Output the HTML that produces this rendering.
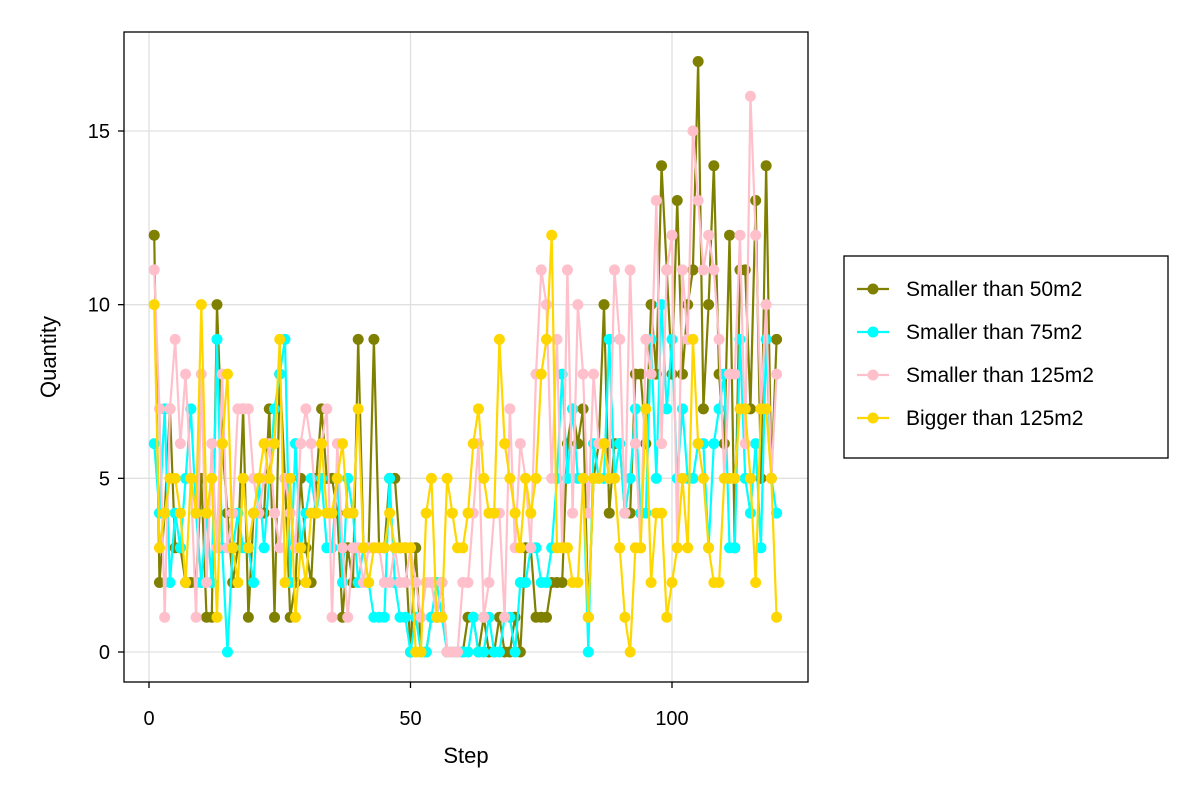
<!DOCTYPE html>
<html><head><meta charset="utf-8"><style>
body{margin:0;background:#fff;}
svg{display:block;font-family:"Liberation Sans",Arial,sans-serif;}
</style></head><body>
<svg id="chart" width="1200" height="800">
<rect x="0" y="0" width="1200" height="800" fill="#fff"/>
<g id="grid"></g><g id="series"></g>
<rect x="124" y="32" width="684" height="650" fill="none" stroke="#000" stroke-width="1.3"/>
<g id="axes"></g>
<text x="466" y="763" font-size="22" text-anchor="middle">Step</text>
<text transform="translate(56,357) rotate(-90)" font-size="22" text-anchor="middle">Quantity</text>
<g id="legend"><rect x="844" y="256" width="324" height="202" fill="#fff" stroke="#000" stroke-width="1.3"/></g>
</svg>
<script>
const seriesNames=["Smaller than 50m2","Smaller than 75m2","Smaller than 125m2","Bigger than 125m2"];
const colors=["#808000","#00ffff","#ffc0cb","#ffd700"];
const s50=[12,2,4,7,3,3,2,2,2,5, 1,1,10,6,4,2,3,7,1,4, 4,4,7,1,8,5,1,2,5,3, 2,5,7,5,5,4,1,3,2,9, 3,3,9,3,3,5,5,3,3,0, 3,0,0,1,1,2,0,0,0,0, 1,1,0,1,0,0,1,0,0,1, 0,3,3,1,1,1,2,2,2,6, 7,6,7,1,5,6,10,4,6,6, 4,4,8,8,6,10,8,14,11,8, 13,8,10,11,17,7,10,14,8,6, 12,3,11,11,7,13,5,14,5,9];
const s75=[6,4,7,2,4,3,5,7,4,2, 4,2,9,3,0,3,4,3,3,2, 5,3,5,7,8,9,2,6,3,4, 5,4,5,3,3,5,2,5,4,2, 3,2,1,1,1,5,2,1,1,0, 1,0,0,1,2,1,0,0,0,0, 0,1,0,0,1,0,0,1,1,0, 2,2,3,3,2,2,3,5,8,5, 7,5,5,0,6,5,5,9,5,6, 4,5,7,4,4,9,5,10,7,9, 5,7,5,5,6,6,3,6,7,8, 3,3,9,5,4,6,3,9,5,4];
const s125=[11,7,1,7,9,6,8,5,1,8, 2,6,3,8,3,4,7,7,7,5, 4,5,6,4,3,5,4,3,6,7, 6,4,6,7,1,6,3,1,3,3, 2,3,3,3,2,2,3,2,2,3, 2,1,2,2,1,2,0,0,0,2, 2,4,6,1,2,4,4,1,7,3, 6,5,3,8,11,10,5,9,3,11, 4,10,8,4,8,6,6,5,11,9, 4,11,6,3,9,8,13,6,11,12, 3,11,9,15,13,11,12,11,9,5, 8,8,12,6,16,12,7,10,5,8];
const sBig=[10,3,4,5,5,4,2,5,4,10, 4,5,1,6,8,3,2,5,3,4, 5,6,5,6,9,2,5,1,3,2, 4,4,6,4,4,5,6,4,4,7, 3,2,3,3,3,4,3,3,3,3, 0,0,4,5,1,1,5,4,3,3, 4,6,7,5,4,4,9,6,5,4, 3,5,4,5,8,9,12,3,3,3, 2,2,5,1,5,5,6,5,5,3, 1,0,3,3,7,2,4,4,1,2, 3,5,3,9,6,5,3,2,2,5, 5,5,7,7,5,2,7,7,5,1];
const xTicks=[0,50,100];
const yTicks=[0,5,10,15];
const allSeries=[s50,s75,s125,sBig];
const NS="http://www.w3.org/2000/svg";
function xs(v){return 149+v*(672-149)/100;}
function ys(v){return 652-v*(652-131)/15;}
function mk(tag,attrs,parent){const e=document.createElementNS(NS,tag);for(const k in attrs)e.setAttribute(k,attrs[k]);parent.appendChild(e);return e;}
const grid=document.getElementById('grid'),axes=document.getElementById('axes'),ser=document.getElementById('series'),leg=document.getElementById('legend');
xTicks.forEach(t=>{
  const l=mk('line',{x1:xs(t),x2:xs(t),y1:32,y2:682,stroke:'#e0e0e0','stroke-width':1.3},grid);
  
  
  mk('line',{x1:xs(t),x2:xs(t),y1:682,y2:688,stroke:'#000','stroke-width':1.3},axes);
  const tx=mk('text',{x:xs(t),y:725,'font-size':20,'text-anchor':'middle'},axes);tx.textContent=t;
  
  
});
yTicks.forEach(t=>{
  const l=mk('line',{x1:124,x2:808,y1:ys(t),y2:ys(t),stroke:'#e0e0e0','stroke-width':1.3},grid);
  
  
  mk('line',{x1:118,x2:124,y1:ys(t),y2:ys(t),stroke:'#000','stroke-width':1.3},axes);
  const tx=mk('text',{x:110,y:ys(t)+7,'font-size':20,'text-anchor':'end'},axes);tx.textContent=t;
  
  
});
allSeries.forEach((d,si)=>{
  const g=mk('g',{},ser);
  
  
  const pts=d.map((v,i)=>xs(i+1)+','+ys(v)).join(' ');
  mk('polyline',{points:pts,fill:'none',stroke:colors[si],'stroke-width':2.2,'stroke-linejoin':'round'},g);
  d.forEach((v,i)=>{
    const c=mk('circle',{cx:xs(i+1),cy:ys(v),r:5.5,fill:colors[si]},g);
    
    
  });
  const y=289+si*43;
  const e=mk('g',{},leg);
  
  
  mk('line',{x1:857,x2:889,y1:y,y2:y,stroke:colors[si],'stroke-width':2.2},e);
  mk('circle',{cx:873,cy:y,r:5.5,fill:colors[si]},e);
  const t=mk('text',{x:906,y:y+7,'font-size':21},e);t.textContent=seriesNames[si];
});
</script>
</body></html>
